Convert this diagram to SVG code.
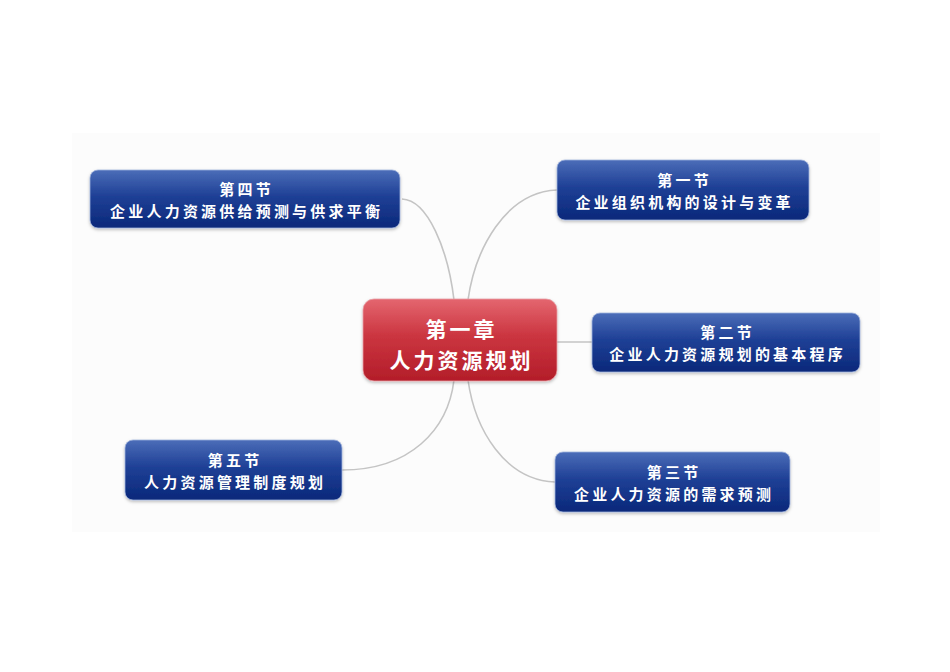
<svg xmlns="http://www.w3.org/2000/svg" width="950" height="672" viewBox="0 0 950 672">
  <defs>
    <linearGradient id="blueGrad" x1="0" y1="0" x2="0" y2="1">
      <stop offset="0" stop-color="#4b6db8"/>
      <stop offset="0.45" stop-color="#1f4096"/>
      <stop offset="1" stop-color="#0a287a"/>
    </linearGradient>
    <linearGradient id="redGrad" x1="0" y1="0" x2="0" y2="1">
      <stop offset="0" stop-color="#e4666f"/>
      <stop offset="0.45" stop-color="#cb3540"/>
      <stop offset="1" stop-color="#b31d29"/>
    </linearGradient>
    <filter id="shadow" x="-10%" y="-20%" width="120%" height="150%">
      <feDropShadow dx="0" dy="1.5" stdDeviation="1.5" flood-color="#000" flood-opacity="0.25"/>
    </filter>
  </defs>
  <style>
    .blue { fill: url(#blueGrad); stroke: #9fb3dc; stroke-width: 0.8; filter: url(#shadow); }
    .red { fill: url(#redGrad); stroke: #e8a0a5; stroke-width: 0.8; filter: url(#shadow); }
    .t { font-family: "Noto Sans CJK SC", "Noto Sans", sans-serif; font-weight: bold; fill: #ffffff; text-anchor: middle; }
    .nt { font-size: 15px; letter-spacing: 3.2px; }
    .ct { font-size: 21px; letter-spacing: 3px; }
    .conn { fill: none; stroke: #c4c4c4; stroke-width: 1.6; }
  </style>
  <rect x="0" y="0" width="950" height="672" fill="#ffffff"/>
  <rect x="72" y="133" width="808" height="399" fill="#fcfcfc"/>

  <g id="connectors">
    <path class="conn" d="M402,199 C428,200 448,250 454,300"/>
    <path class="conn" d="M557,190 C505,192 475,250 468,300"/>
    <path class="conn" d="M557,342 L592,342"/>
    <path class="conn" d="M468,380 C475,430 505,480 555,482"/>
    <path class="conn" d="M454,380 C448,430 410,470 342,470"/>
  </g>

  <g id="center">
    <rect class="red" x="363" y="299" width="194" height="82" rx="11"/>
    <text class="t ct" x="461.5" y="337">第一章</text>
    <text class="t ct" x="461.5" y="368">人力资源规划</text>
  </g>

  <g id="node4">
    <rect class="blue" x="90" y="170" width="310" height="58" rx="8"/>
    <text class="t nt" x="246.6" y="194.5">第四节</text>
    <text class="t nt" x="246.6" y="216.5">企业人力资源供给预测与供求平衡</text>
  </g>

  <g id="node1">
    <rect class="blue" x="557" y="160" width="252" height="60" rx="8"/>
    <text class="t nt" x="684.6" y="185.5">第一节</text>
    <text class="t nt" x="684.6" y="207.5">企业组织机构的设计与变革</text>
  </g>

  <g id="node2">
    <rect class="blue" x="592" y="313" width="268" height="59" rx="8"/>
    <text class="t nt" x="727.6" y="338">第二节</text>
    <text class="t nt" x="727.6" y="360">企业人力资源规划的基本程序</text>
  </g>

  <g id="node5">
    <rect class="blue" x="125" y="440" width="217" height="60" rx="8"/>
    <text class="t nt" x="235.1" y="465.5">第五节</text>
    <text class="t nt" x="235.1" y="487.5">人力资源管理制度规划</text>
  </g>

  <g id="node3">
    <rect class="blue" x="555" y="452" width="235" height="60" rx="8"/>
    <text class="t nt" x="674.1" y="477.5">第三节</text>
    <text class="t nt" x="674.1" y="499.5">企业人力资源的需求预测</text>
  </g>
</svg>
